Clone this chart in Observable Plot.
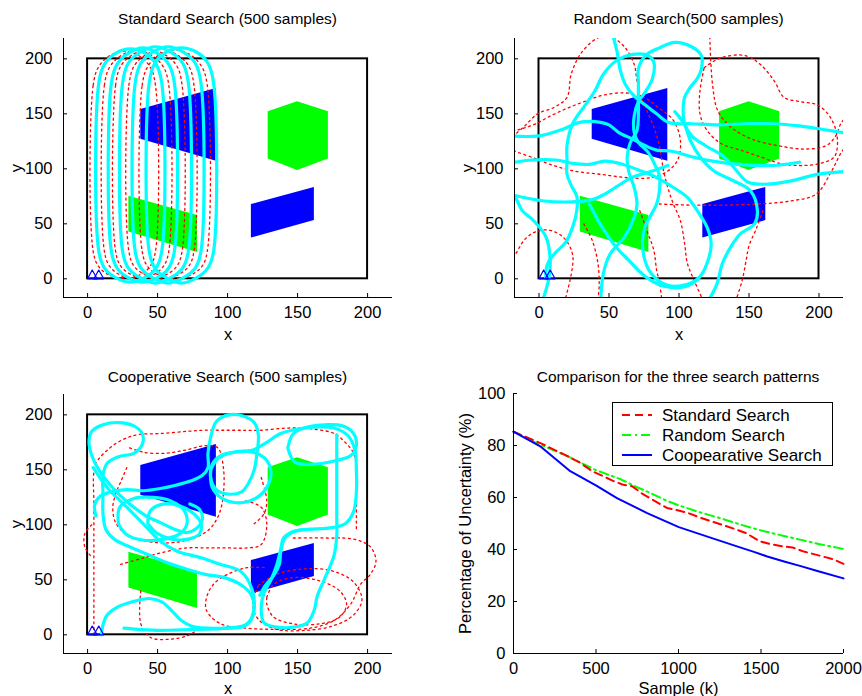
<!DOCTYPE html>
<html><head><meta charset="utf-8">
<script src="https://cdn.jsdelivr.net/npm/d3@7"></script>
<script src="https://cdn.jsdelivr.net/npm/@observablehq/plot@0.6"></script>
<style>
body{margin:0;background:#fff;}
#fig{position:relative;width:862px;height:696px;overflow:hidden;background:#fff;font-family:"Liberation Sans",Arial,Helvetica,sans-serif;}
.panel{position:absolute;}
.title{position:absolute;font-size:15.5px;white-space:nowrap;transform:translate(-50%,-50%);color:#000;}
#legend{position:absolute;}
</style></head>
<body><div id="fig"></div>
<script>
const FONT = '"Liberation Sans", Arial, Helvetica, sans-serif';

// ---------- shared map data ----------
const mapTicks = [0, 50, 100, 150, 200];
const mapXDomainLeft = [-17.2, 217.8];
const mapXDomainRight = [-17.5, 217.5];
const mapYDomain = [-17, 218.5];
const searchArea = [{x1: 0, y1: 0, x2: 200, y2: 200}];
const blueTargets = [
  {shape: "trapezoid", x: 38, lo: 127, hi: 154}, {shape: "trapezoid", x: 92, lo: 107, hi: 173},
  {shape: "parallelogram", x: 117, lo: 37, hi: 67.5}, {shape: "parallelogram", x: 162, lo: 53, hi: 83}
];
const greenTargets = [
  {shape: "hexagon", x: 129, lo: 109, hi: 152}, {shape: "hexagon", x: 150, lo: 98.5, hi: 161}, {shape: "hexagon", x: 172, lo: 109, hi: 152},
  {shape: "parallelogram", x: 29.5, lo: 42.5, hi: 75}, {shape: "parallelogram", x: 78.5, lo: 24, hi: 57.5}
];
const vehicles = [[[0,0],[3.3,8],[6.8,0],[0,0]], [[4.5,0],[8,8],[11.5,0],[4.5,0]]];

// ---------- Standard search paths (waypoints of closed racetrack loops) ----------
const standardCyan = [
  [[8,25],[8,178],[12,195],[20,205],[30.5,209],[41,205],[49,195],[53,178],[53,25],[49,10],[41,1],[30.5,-3],[20,1],[12,10]],
  [[17,25],[17,178],[21,195],[29,205],[39.5,210],[50,205],[58,195],[62,178],[62,25],[58,10],[50,1],[39.5,-3],[29,1],[21,10]],
  [[25,25],[25,178],[29,196],[37.5,206],[48.5,211],[59.5,206],[68,196],[72,178],[72,25],[68,10],[59.5,1],[48.5,-4],[37.5,1],[29,10]],
  [[34,25],[34,178],[38,196],[46.5,206],[57.5,211],[68.5,206],[77,196],[81,178],[81,25],[77,10],[68.5,1],[57.5,-4],[46.5,1],[38,10]],
  [[44,25],[44,178],[48,196],[56,206],[67,210],[78,206],[86,196],[90,178],[90,25],[86,10],[78,1],[67,-4],[56,1],[48,10]]
];
const standardRed = [
  [[4,25],[4,176],[8,193],[16,203],[26.2,207],[36.5,203],[44.5,193],[48.5,176],[48.5,25],[44.5,11],[36.5,3],[26.2,0],[16,3],[8,11]],
  [[12,25],[12,176],[16,193],[24,203],[35,208],[46,203],[54,193],[58,176],[58,25],[54,11],[46,3],[35,0],[24,3],[16,11]],
  [[20,25],[20,176],[24,194],[32.5,204],[43.7,209],[55,204],[63.5,194],[67.5,176],[67.5,25],[63.5,11],[55,3],[43.7,0],[32.5,3],[24,11]],
  [[29.5,25],[29.5,176],[33.5,194],[42,204],[52.7,209],[63.5,204],[72,194],[76,176],[76,25],[72,11],[63.5,3],[52.7,0],[42,3],[33.5,11]],
  [[39,25],[39,176],[43,193],[51.5,204],[62.2,208],[73,204],[81.5,193],[85.5,176],[85.5,25],[81.5,11],[73,3],[62.2,0],[51.5,3],[43,11]]
];

// ---------- Random search paths ----------
const randomCyan = [
  [[5,0],[5,8],[7,16],[12,24],[19,33],[24,47],[27,62],[27,75],[23,85],[20,95],[20,108],[20,121],[24,141],[33,158],[40,171],[46,186],[55,198],[67,204],[78,203],[82,197],[81,182],[76,170],[71,161],[68,148],[68,133],[71,124],[78,115],[83,103],[86,94],[86,80],[84,68],[80,58],[76,48],[74,36],[75,20],[80,5],[92,-6],[106,-5],[115,2],[120,14],[123,32],[120,47],[113,62],[106,74],[96,83],[84,92],[73,98],[60,104],[47,107],[36,104],[24,105],[12,108],[-5,108],[-22,105]],
  [[-22,130],[0,130],[17,136],[28,142],[40,143],[50,140],[57,133],[67,127],[76,121],[84,117],[95,116],[109,111],[124,107],[143,104],[167,103],[186,106]],
  [[44,-22],[46,5],[51,23],[61,38],[68,56],[70,68],[68,83],[64,98],[63,111],[65,123],[70,135],[71,150],[71,165],[71,179],[71,191],[76,203],[86,210],[97,215],[109,211],[116,203],[116,191],[113,182],[108,174],[104,165],[103,151],[104,141],[109,130],[119,121],[131,112],[140,100],[149,88],[163,86],[180,89],[199,95],[222,98]],
  [[52,225],[56,205],[58,190],[62,176],[68,166],[76,158],[84,150],[93,142],[109,141],[128,140],[147,141],[167,141],[186,139],[202,136],[222,132]],
  [[-22,77],[2,71],[24,70],[38,72],[47,77],[57,85],[66,92],[81,98],[92,103]],
  [[97,152],[104,140],[108,126],[115,111],[125,98],[139,89],[151,80],[156,62],[154,50],[144,41],[137,29],[131,14],[127,-5],[120,-22]],
  [[-22,84],[-16,72],[-12,62],[-4,53],[5,38],[8,17],[7,0],[5,-10],[2,-22]],
  [[36,68],[45,47],[55,29],[64,17],[76,2],[90,-7],[105,-7],[114,0]]
];
const randomRed = [
  [[-22,126],[-11,138],[-1,150],[11,156],[20,165],[23,186],[30,205],[42,219],[51,220],[61,211],[68,195],[70,180],[73,165],[77,153],[82,138],[85,126],[87,114],[89,98],[92,83],[96,68],[101,53],[104,32],[106,14],[111,-2],[118,-22]],
  [[-22,118],[-4,110],[8,104],[25,98],[44,95],[63,92],[80,92],[92,98],[99,108],[101,126],[96,144],[85,156],[75,165],[62,169],[46,167],[32,161],[20,155],[8,148],[-4,140],[-22,133]],
  [[118,192],[130,201],[147,203],[158,195],[168,180],[175,165],[187,161],[199,158],[208,147],[213,129],[211,111],[201,105],[187,103],[172,105],[158,111],[144,117],[130,123],[120,135],[115,150],[115,171],[118,192]],
  [[86,68],[109,67],[131,67],[157,68],[181,71],[198,77],[209,98],[216,115],[222,125]],
  [[122,220],[124,176],[128,152],[138,137],[152,127],[171,121],[190,118],[205,121],[212,130],[216,142],[222,150]],
  [[-22,10],[-16,24],[-10,36],[-2,43],[8,44],[18,37],[24,22],[23,4],[18,-22]],
  [[72,62],[77,44],[82,26],[84,8],[86,-3],[88,-22]],
  [[160,62],[155,45],[150,30],[148,17],[145,-2],[140,-22]],
  [[32,50],[38,35],[42,15],[43,-5],[42,-22]]
];

// ---------- Cooperative search paths ----------
const coopCyan = [
  [[10,0],[11,9],[14,18],[21,25],[32,30],[44,33],[53,30],[60,22],[67,13],[74,8],[86,6],[100,6],[110,7],[116,12],[119,24],[117,36],[110,45],[98,52],[84,55],[70,60],[56,66],[43,73],[30,80],[19,87],[13,96],[11,110],[11,128],[11,145],[14,156],[22,162],[33,165],[39,173],[39,183],[33,190],[22,193],[11,191],[3,185],[1,176],[3,163],[8,150],[15,138],[23,127],[32,117],[42,108],[52,102],[62,96],[71,93],[78,97],[82,105],[80,114],[73,119]],
  [[6,108],[5,118],[9,126],[17,130],[28,132],[40,131],[52,133],[63,136],[74,140],[82,145],[86,152],[86,165],[88,180],[92,194],[101,200],[111,199],[119,193],[122,182],[121,165],[119,150],[115,138],[110,130],[100,128],[92,132],[88,142],[89,155],[95,163],[105,166],[118,168],[128,175],[138,183],[150,187],[163,189],[176,188],[186,181],[191,168],[192,150],[192,130],[190,112],[184,101],[172,97],[158,96],[148,94],[141,88],[138,76],[137,64],[133,54],[127,45],[123,36]],
  [[178,182],[178,150],[178,120],[178,105],[178,90],[176,72],[169,50],[164,35],[162,23],[157,11],[147,7],[135,7],[126,11],[124,24],[126,38],[131,50],[135,63],[138,78],[140,88],[147,94],[159,96]],
  [[143,170],[147,183],[157,189],[170,191],[182,190],[190,183],[192,172],[188,163],[176,158],[160,155],[148,157],[143,170]],
  [[22,101],[23,116],[33,124],[47,125],[59,122],[69,113],[71,101],[66,92],[55,87],[40,86],[28,91],[22,101]],
  [[43,101],[45,113],[55,119],[66,117],[76,110],[81,101],[80,92],[72,87],[60,87],[50,92],[43,101]],
  [[88,150],[93,160],[104,166],[118,166],[127,160],[131,148],[128,134],[120,124],[108,120],[96,124],[89,134],[88,150]],
  [[4,152],[14,134],[28,116],[42,98],[52,85],[64,76],[81,70],[95,64],[109,58],[116,46],[119,25],[114,10],[100,6],[76,5],[52,4],[36,5],[26,6]]
];
const coopRed = [
  [[4.5,0],[4.5,30],[4.5,60],[4.5,90],[4.5,120],[4.5,148],[7,158],[16,170],[26,178],[36,182],[52,183],[71,185],[83,186],[95,186],[108,186],[124,186],[143,188],[162,187],[176,183],[184,175],[190,165],[192,150],[192,120],[192,95]],
  [[30,170],[40,166],[55,165],[70,168],[84,172],[93,170],[97,152],[97,128],[94,110],[87,96],[76,88],[62,84],[48,84],[36,87],[26,93],[20,102],[18,115],[20,128],[24,140],[28,152]],
  [[23.6,64],[40,70],[57,76],[71,79],[86,79],[100,79],[114,79],[124,82],[128,101],[124,116],[112,122]],
  [[147,88],[171,88],[190,87],[202,80],[206,67],[202,55],[195,46],[188,28],[176,13],[159,6],[135,5],[114,6],[95,10],[85,22],[85,34],[90,46],[100,55],[114,61],[128,61]],
  [[128,34],[133,46],[147,52],[166,49],[180,40],[185,28],[180,16],[166,10],[147,10],[133,16],[128,28],[128,34]],
  [[122,45],[135,55],[155,60],[175,58],[190,48],[196,32],[190,18],[175,8],[155,4],[135,5],[122,14],[118,28],[122,45]],
  [[38,40],[38,10],[45,-2.4],[59,-4],[71,-1],[78,4]],
  [[3,100],[-2,92],[-2,80],[2,72]],
  [[124,143],[128,122],[126,110],[119,101]]
];

// ---------- Comparison data ----------
const sampleTicks = [0, 500, 1000, 1500, 2000];
const pctTicks = [0, 20, 40, 60, 80, 100];
const seriesNames = ["Standard Search", "Random Search", "Coopearative Search"];
const standardK =   [0,160,324,400,480,540,600,660,720,780,860,930,1000,1060,1130,1240,1350,1410,1490,1550,1630,1690,1760,1870,1940,2000];
const standardPct = [85.3,81,76,73.5,70,68.3,66.5,65,64.3,61.5,58.5,56,55,54,52.3,50,47.7,46.3,43.2,42.2,41.2,40.8,39.2,37.4,36.2,34.5];
const randomK =   [0,150,324,500,650,730,830,920,1000,1130,1240,1340,1450,1520,1640,1750,1850,2000];
const randomPct = [85.3,80.6,76,70.5,67,64.5,61.7,59,57,54.3,52.3,50.3,48.2,47,45.2,43.6,42.1,40.2];
const coopK =   [0,162,344,502,627,810,1002,1134,1336,1457,1538,1640,1741,1842,2000];
const coopPct = [85.3,79.7,70.1,64.6,59.8,54.0,48.6,45.8,41.6,39.1,37.3,35.4,33.6,31.7,28.9];

const panelTitles = ["Standard Search (500 samples)", "Random Search(500 samples)", "Cooperative Search (500 samples)", "Comparison for the three search patterns"];

// ---------- helpers ----------
function rows(paths) { return paths.flatMap((p, i) => p.map(([x, y]) => ({id: i, x, y}))); }
const fmt = d3.format("d");
const TICK = 4;

function mapPanel({xDomain, cyan, red, closed, ml, mr, mt, mb, xLabelOffset}) {
  const curve = closed ? "catmull-rom-closed" : "catmull-rom";
  const fw = 431 - ml - mr, fh = 348 - mt - mb;
  return Plot.plot({
    width: 431, height: 348,
    marginLeft: ml, marginRight: mr, marginTop: mt, marginBottom: mb,
    style: {fontFamily: FONT, fontSize: "16.5px", background: "transparent", color: "#000", overflow: "visible"},
    x: {domain: xDomain, ticks: mapTicks, tickFormat: fmt, tickSize: 0, tickPadding: 9, label: "x", labelAnchor: "center", labelOffset: xLabelOffset, labelArrow: "none"},
    y: {domain: mapYDomain, ticks: mapTicks, tickFormat: fmt, tickSize: 0, tickPadding: 11, label: "y", labelAnchor: "center", labelOffset: 53, labelArrow: "none"},
    marks: [
      Plot.area(blueTargets, {x1: "x", y1: "lo", y2: "hi", z: "shape", fill: "#0000ff"}),
      Plot.area(greenTargets, {x1: "x", y1: "lo", y2: "hi", z: "shape", fill: "#00ff00"}),
      Plot.rect(searchArea, {x1: "x1", x2: "x2", y1: "y1", y2: "y2", fill: "none", stroke: "#000", strokeWidth: 2}),
      Plot.line(rows(red), {x: "x", y: "y", z: "id", stroke: "#ff0000", strokeWidth: 1.3, strokeDasharray: "2,3.5", curve, clip: true}),
      Plot.line(rows(cyan), {x: "x", y: "y", z: "id", stroke: "#00ffff", strokeWidth: 3.2, curve, clip: true}),
      Plot.line(rows(vehicles), {x: "x", y: "y", z: "id", stroke: "#0000ff", strokeWidth: 1.2}),
      Plot.ruleX(mapTicks, {stroke: "#000", strokeWidth: 1, insetTop: fh - TICK}),
      Plot.ruleY(mapTicks, {stroke: "#000", strokeWidth: 1, insetRight: fw - TICK}),
      Plot.ruleX([xDomain[0]], {stroke: "#000", strokeWidth: 1}),
      Plot.ruleY([mapYDomain[0]], {stroke: "#000", strokeWidth: 1})
    ]
  });
}

function comparisonPanel() {
  const table = [
    ...standardK.map((k, i) => ({series: seriesNames[0], k, pct: standardPct[i]})),
    ...randomK.map((k, i) => ({series: seriesNames[1], k, pct: randomPct[i]})),
    ...coopK.map((k, i) => ({series: seriesNames[2], k, pct: coopPct[i]}))
  ];
  const ml = 82, mr = 19, mt = 45, mb = 43;
  const fw = 431 - ml - mr, fh = 348 - mt - mb;
  return Plot.plot({
    width: 431, height: 348,
    marginLeft: ml, marginRight: mr, marginTop: mt, marginBottom: mb,
    style: {fontFamily: FONT, fontSize: "16.5px", background: "transparent", color: "#000", overflow: "visible"},
    x: {domain: [0, 2000], ticks: sampleTicks, tickFormat: fmt, tickSize: 0, tickPadding: 9, label: "Sample (k)", labelAnchor: "center", labelOffset: 40, labelArrow: "none"},
    y: {domain: [0, 100], ticks: pctTicks, tickFormat: fmt, tickSize: 0, tickPadding: 8, label: "Percentage of Uncertainty (%)", labelAnchor: "center", labelOffset: 54, labelArrow: "none"},
    marks: [
      Plot.line(table.filter(d => d.series === seriesNames[1]), {x: "k", y: "pct", stroke: "#00ff00", strokeWidth: 2, strokeDasharray: "9,4,2,4"}),
      Plot.line(table.filter(d => d.series === seriesNames[0]), {x: "k", y: "pct", stroke: "#ff0000", strokeWidth: 2, strokeDasharray: "8,5"}),
      Plot.line(table.filter(d => d.series === seriesNames[2]), {x: "k", y: "pct", stroke: "#0000ff", strokeWidth: 2}),
      Plot.ruleX(sampleTicks, {stroke: "#000", strokeWidth: 1, insetTop: fh - TICK}),
      Plot.ruleY(pctTicks, {stroke: "#000", strokeWidth: 1, insetRight: fw - TICK}),
      Plot.ruleX([0], {stroke: "#000", strokeWidth: 1}),
      Plot.ruleY([0], {stroke: "#000", strokeWidth: 1})
    ]
  });
}

// ---------- layout ----------
const fig = document.getElementById("fig");
function place(node, left, top) {
  const d = document.createElement("div");
  d.className = "panel"; d.style.left = left + "px"; d.style.top = top + "px";
  d.appendChild(node); fig.appendChild(d);
}
place(mapPanel({xDomain: mapXDomainLeft, cyan: standardCyan, red: standardRed, closed: true, ml: 63, mr: 39, mt: 38, mb: 51, xLabelOffset: 42}), 0, 0);
place(mapPanel({xDomain: mapXDomainRight, cyan: randomCyan, red: randomRed, closed: false, ml: 83, mr: 19, mt: 38, mb: 51, xLabelOffset: 42}), 431, 0);
place(mapPanel({xDomain: mapXDomainLeft, cyan: coopCyan, red: coopRed, closed: false, ml: 63, mr: 39, mt: 46, mb: 43, xLabelOffset: 40}), 0, 348);
place(comparisonPanel(), 431, 348);

const titlePos = [[227.5, 19], [678.5, 19], [227.5, 377], [678, 377]];
panelTitles.forEach((t, i) => {
  const d = document.createElement("div");
  d.className = "title"; d.textContent = t;
  d.style.left = titlePos[i][0] + "px"; d.style.top = titlePos[i][1] + "px";
  fig.appendChild(d);
});

// legend
const legendStyles = [
  {stroke: "#ff0000", dash: "8,5"},
  {stroke: "#00ff00", dash: "9,4,2,4"},
  {stroke: "#0000ff", dash: null}
];
const lw = 221, lh = 64;
const leg = d3.create("svg").attr("id", "legend").attr("width", lw).attr("height", lh)
  .style("left", "612px").style("top", "402px");
leg.append("rect").attr("x", 0.5).attr("y", 0.5).attr("width", lw - 1).attr("height", lh - 1)
  .attr("fill", "#fff").attr("stroke", "#000").attr("stroke-width", 1);
seriesNames.forEach((name, i) => {
  const cy = 13 + i * 20;
  leg.append("line").attr("x1", 10).attr("x2", 40).attr("y1", cy).attr("y2", cy)
    .attr("stroke", legendStyles[i].stroke).attr("stroke-width", 2)
    .attr("stroke-dasharray", legendStyles[i].dash);
  leg.append("text").attr("x", 50).attr("y", cy).attr("dy", "0.36em")
    .attr("font-family", FONT).attr("font-size", "17px").attr("fill", "#000").text(name);
});
fig.appendChild(leg.node());
</script>
</body></html>
